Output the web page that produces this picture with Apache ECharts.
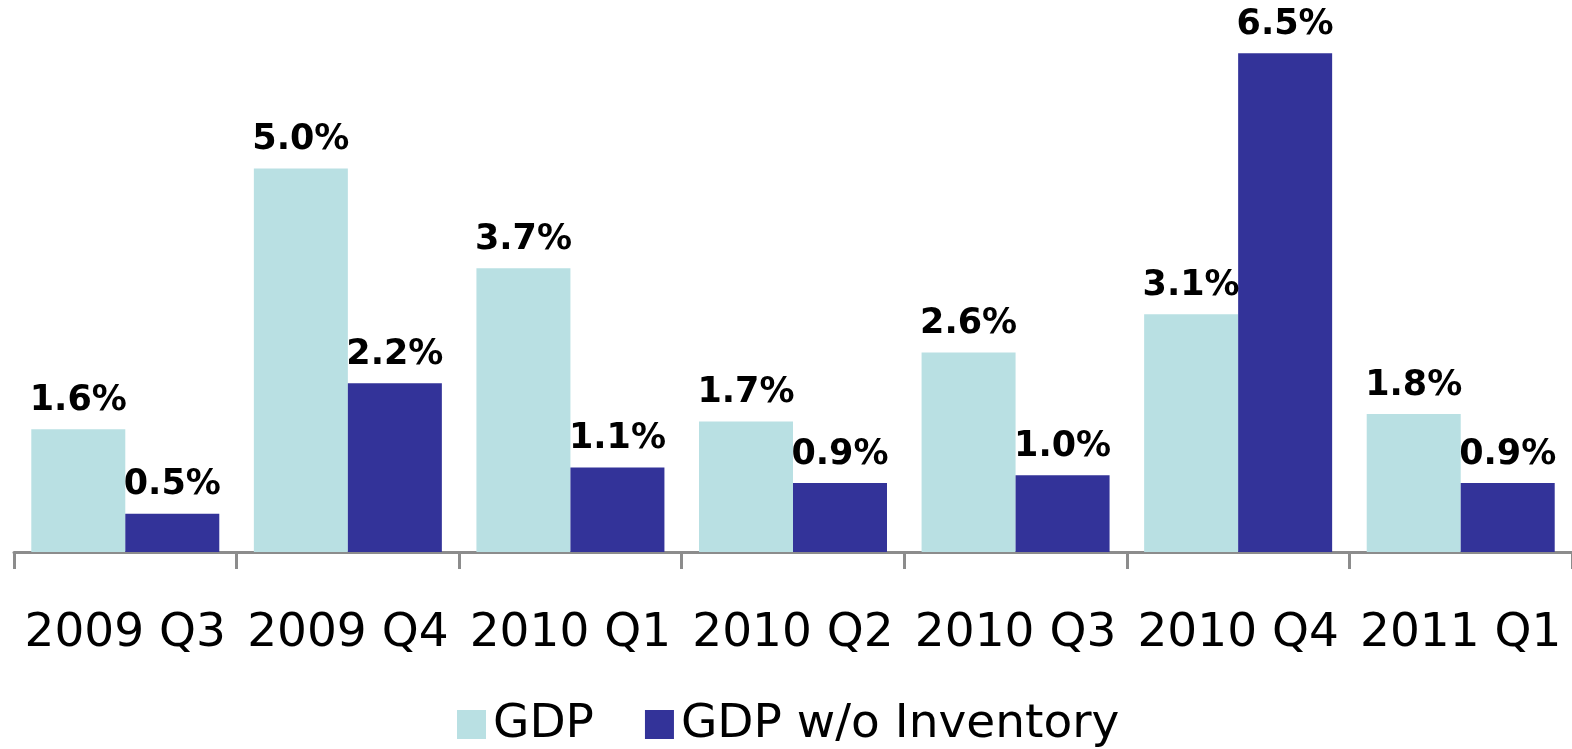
<!DOCTYPE html>
<html>
<head>
<meta charset="utf-8">
<script src="https://cdn.jsdelivr.net/npm/echarts@6/dist/echarts.min.js"></script>
<style>
  html, body { margin: 0; padding: 0; background: #fff; }
  #chart { width: 1572px; height: 749px; }
</style>
</head>
<body>
<div id="chart"></div>
<script>
const quarters = ["2009 Q3", "2009 Q4", "2010 Q1", "2010 Q2", "2010 Q3", "2010 Q4", "2011 Q1"];
const gdp = [1.6, 5.0, 3.7, 1.7, 2.6, 3.1, 1.8];
const gdpNoInventory = [0.5, 2.2, 1.1, 0.9, 1.0, 6.5, 0.9];

const font = "DejaVu Sans, Verdana, sans-serif";

const valueLabel = {
  show: true,
  position: "top",
  distance: 11,
  color: "#000",
  fontFamily: font,
  fontWeight: "bold",
  fontSize: 35,
  formatter: (p) => p.value.toFixed(1) + "%",
};

const chart = echarts.init(document.getElementById("chart"));
chart.setOption({
  animation: false,
  backgroundColor: "#fff",
  grid: { left: 14, right: 0, top: 15, bottom: 197 },
  legend: {
    left: 452,
    top: 696,
    icon: "rect",
    itemWidth: 29,
    itemHeight: 29,
    itemGap: 51,
    textStyle: { fontFamily: font, fontSize: 47, color: "#000", padding: [0, 0, 0, 2] },
    data: ["GDP", "GDP w/o Inventory"],
  },
  xAxis: {
    type: "category",
    data: quarters,
    axisLine: { lineStyle: { color: "#8c8c8c", width: 3 } },
    axisTick: { show: true, interval: 0, length: 17, lineStyle: { color: "#8c8c8c", width: 3 } },
    axisLabel: { interval: 0, hideOverlap: false, color: "#000", fontFamily: font, fontSize: 47, margin: 58 },
  },
  yAxis: {
    type: "value",
    min: 0,
    max: 7,
    show: false,
    splitLine: { show: false },
  },
  series: [
    {
      name: "GDP",
      type: "bar",
      data: gdp,
      barWidth: 94,
      barGap: "0%",
      itemStyle: { color: "#b9e0e3" },
      label: valueLabel,
    },
    {
      name: "GDP w/o Inventory",
      type: "bar",
      data: gdpNoInventory,
      barWidth: 94,
      barGap: "0%",
      itemStyle: { color: "#333399" },
      label: valueLabel,
    },
  ],
});
</script>
</body>
</html>
